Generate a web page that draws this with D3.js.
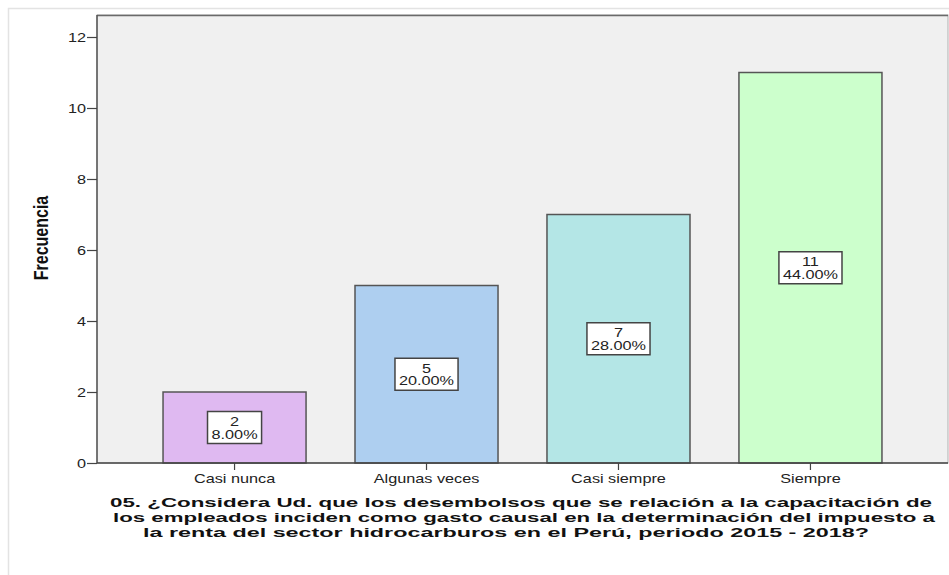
<!DOCTYPE html>
<html>
<head>
<meta charset="utf-8">
<script src="https://cdn.jsdelivr.net/npm/d3@7/dist/d3.min.js"></script>
<style>
  html, body { margin: 0; padding: 0; background: #ffffff; }
  svg { display: block; }
</style>
</head>
<body>
<svg id="chart" width="949" height="575"></svg>
<script>
// Response categories and their frequencies
const categories = ["Casi nunca", "Algunas veces", "Casi siempre", "Siempre"];
const counts = [2, 5, 7, 11];
const percents = ["8.00%", "20.00%", "28.00%", "44.00%"];
const barColors = ["#dfb9f1", "#aecff0", "#b4e6e6", "#ccffcc"];
const yTicks = [0, 2, 4, 6, 8, 10, 12];
const titleLines = [
  "05. ¿Considera Ud. que los desembolsos que se relación a la capacitación de",
  "los empleados inciden como gasto causal en la determinación del impuesto a",
  "la renta del sector hidrocarburos en el Perú, periodo 2015 - 2018?"
];

const FONT = "Arial, 'Liberation Sans', sans-serif";
const SX = 1.25; // horizontal stretch of the lettering

const svg = d3.select("#chart");
const plot = { left: 97, right: 948, top: 15, bottom: 463 };

// Outer frame
svg.append("rect")
  .attr("x", 8.5).attr("y", 8.5)
  .attr("width", 960).attr("height", 600)
  .attr("fill", "#ffffff").attr("stroke", "#e3e3e3").attr("stroke-width", 1.5);

const y = d3.scaleLinear().domain([0, 12]).range([plot.bottom, plot.bottom - 12 * 35.5]);
const x = d3.scaleBand().domain(categories)
  .range([plot.left, plot.right])
  .paddingInner(0.255).paddingOuter(0.344);

// Plot background
svg.append("rect")
  .attr("x", plot.left).attr("y", plot.top)
  .attr("width", plot.right - plot.left).attr("height", plot.bottom - plot.top)
  .attr("fill", "#f0f0f0").attr("stroke", "#b0b0b0").attr("stroke-width", 1);
svg.append("line")
  .attr("x1", plot.left).attr("x2", plot.right)
  .attr("y1", plot.top + 0.5).attr("y2", plot.top + 0.5)
  .attr("stroke", "#6a6a6a").attr("stroke-width", 1.5);

// Bars
const data = categories.map((c, i) => ({ c, v: counts[i], p: percents[i], col: barColors[i] }));
svg.append("g").selectAll("rect").data(data).join("rect")
  .attr("x", d => x(d.c))
  .attr("y", d => y(d.v))
  .attr("width", x.bandwidth())
  .attr("height", d => y(0) - y(d.v))
  .attr("fill", d => d.col)
  .attr("stroke", "#555555").attr("stroke-width", 1.5);

// Value labels in white boxes at the bar middle
const labels = svg.append("g").selectAll("g").data(data).join("g")
  .attr("transform", d => `translate(${x(d.c) + x.bandwidth() / 2},${y(d.v / 2)})`);
labels.each(function (d) {
  const g = d3.select(this);
  const box = g.append("rect").attr("fill", "#ffffff").attr("stroke", "#444444").attr("stroke-width", 1.5);
  const t = g.append("text")
    .attr("transform", `scale(${SX},1)`)
    .attr("text-anchor", "middle")
    .attr("font-family", FONT)
    .attr("font-size", 13).attr("fill", "#222222");
  t.append("tspan").attr("x", 0).attr("y", -1.5).text(d.v);
  t.append("tspan").attr("x", 0).attr("y", 11).text(d.p);
  const w = t.node().getBBox().width * SX;
  box.attr("x", -w / 2 - 4).attr("y", -16).attr("width", w + 8).attr("height", 32);
});

// Y axis
const yAxis = svg.append("g")
  .attr("transform", `translate(${plot.left},0)`)
  .call(d3.axisLeft(y).tickValues(yTicks).tickSize(10).tickPadding(1).tickSizeOuter(0));
yAxis.select(".domain").attr("stroke", "#555555").attr("stroke-width", 1.5)
  .attr("d", `M0,${plot.bottom}V${plot.top}`);
yAxis.selectAll(".tick line").attr("stroke", "#444444").attr("stroke-width", 1.2);
yAxis.selectAll(".tick text")
  .attr("x", 0)
  .attr("transform", `translate(-11,0) scale(${SX},1)`)
  .attr("font-family", FONT)
  .attr("font-size", 13).attr("fill", "#222222");

// X axis
const xAxis = svg.append("g")
  .attr("transform", `translate(0,${plot.bottom})`)
  .call(d3.axisBottom(x).tickSize(7).tickPadding(3.5).tickSizeOuter(0));
xAxis.select(".domain").attr("stroke", "#444444").attr("stroke-width", 1.5)
  .attr("d", `M${plot.left},0H${plot.right}`);
xAxis.selectAll(".tick line").attr("stroke", "#444444").attr("stroke-width", 1.2);
xAxis.selectAll(".tick text")
  .attr("transform", `scale(${SX},1)`)
  .attr("font-family", FONT)
  .attr("font-size", 13).attr("fill", "#222222");

// Y axis title
svg.append("text")
  .attr("transform", `translate(48,238) scale(${SX},1) rotate(-90)`)
  .attr("text-anchor", "middle")
  .attr("font-family", FONT)
  .attr("font-weight", "bold").attr("font-size", 16).attr("fill", "#111111")
  .text("Frecuencia");

// X axis title, three lines
const titleX = [110, 113, 143];
const titleW = [822, 822, 726];
svg.append("g").selectAll("text").data(titleLines).join("text")
  .attr("x", (d, i) => titleX[i])
  .attr("y", (d, i) => 506.5 + i * 15)
  .attr("textLength", (d, i) => titleW[i])
  .attr("lengthAdjust", "spacingAndGlyphs")
  .attr("font-family", FONT)
  .attr("font-weight", "bold").attr("font-size", 13).attr("fill", "#111111")
  .text(d => d);
</script>
</body>
</html>
